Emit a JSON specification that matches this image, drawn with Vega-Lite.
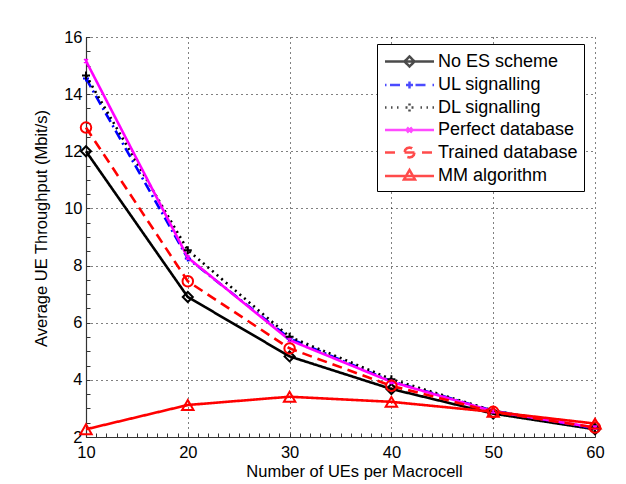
{
  "$schema": "https://vega.github.io/schema/vega-lite/v6.json",
  "width": 509,
  "height": 400,
  "autosize": "none",
  "padding": {"left": 86, "top": 37, "right": 31, "bottom": 47},
  "background": "white",
  "config": {"view": {"stroke": null}, "font": "Liberation Sans"},
  "data": {"values": [
    {"series": "No ES scheme", "ues": 10, "tput": 12.0},
    {"series": "No ES scheme", "ues": 20, "tput": 6.9},
    {"series": "No ES scheme", "ues": 30, "tput": 4.82},
    {"series": "No ES scheme", "ues": 40, "tput": 3.68},
    {"series": "No ES scheme", "ues": 50, "tput": 2.82},
    {"series": "No ES scheme", "ues": 60, "tput": 2.27},
    {"series": "UL signalling", "ues": 10, "tput": 14.55},
    {"series": "UL signalling", "ues": 20, "tput": 8.25},
    {"series": "UL signalling", "ues": 30, "tput": 5.45},
    {"series": "UL signalling", "ues": 40, "tput": 3.95},
    {"series": "UL signalling", "ues": 50, "tput": 2.92},
    {"series": "UL signalling", "ues": 60, "tput": 2.3},
    {"series": "DL signalling", "ues": 10, "tput": 14.65},
    {"series": "DL signalling", "ues": 20, "tput": 8.54},
    {"series": "DL signalling", "ues": 30, "tput": 5.51},
    {"series": "DL signalling", "ues": 40, "tput": 4.02},
    {"series": "DL signalling", "ues": 50, "tput": 2.92},
    {"series": "DL signalling", "ues": 60, "tput": 2.3},
    {"series": "Perfect database", "ues": 10, "tput": 15.16},
    {"series": "Perfect database", "ues": 20, "tput": 8.28},
    {"series": "Perfect database", "ues": 30, "tput": 5.39},
    {"series": "Perfect database", "ues": 40, "tput": 3.93},
    {"series": "Perfect database", "ues": 50, "tput": 2.9},
    {"series": "Perfect database", "ues": 60, "tput": 2.33},
    {"series": "Trained database", "ues": 10, "tput": 12.83},
    {"series": "Trained database", "ues": 20, "tput": 7.45},
    {"series": "Trained database", "ues": 30, "tput": 5.1},
    {"series": "Trained database", "ues": 40, "tput": 3.79},
    {"series": "Trained database", "ues": 50, "tput": 2.88},
    {"series": "Trained database", "ues": 60, "tput": 2.33},
    {"series": "MM algorithm", "ues": 10, "tput": 2.27},
    {"series": "MM algorithm", "ues": 20, "tput": 3.12},
    {"series": "MM algorithm", "ues": 30, "tput": 3.41},
    {"series": "MM algorithm", "ues": 40, "tput": 3.23},
    {"series": "MM algorithm", "ues": 50, "tput": 2.88},
    {"series": "MM algorithm", "ues": 60, "tput": 2.47}
  ]},
  "encoding": {
    "x": {
      "field": "ues", "type": "quantitative",
      "scale": {"domain": [10, 60], "nice": false, "zero": false},
      "axis": {
        "title": "Number of UEs per Macrocell",
        "values": [10,11,12,13,14,15,16,17,18,19,20,21,22,23,24,25,26,27,28,29,30,31,32,33,34,35,36,37,38,39,40,41,42,43,44,45,46,47,48,49,50,51,52,53,54,55,56,57,58,59,60],
        "labelExpr": "datum.value % 10 === 0 ? format(datum.value, 'd') : ''",
        "labelOverlap": false, "labelFlush": false,
        "grid": true,
        "gridOpacity": {"condition": {"test": "datum.value % 10 === 0", "value": 1}, "value": 0},
        "gridDash": [1, 4], "gridColor": "#000", "gridWidth": 1,
        "tickSize": -4, "tickColor": "#333", "tickWidth": 1,
        "domainColor": "#333", "domainWidth": 1.2,
        "labelPadding": 11, "labelFontSize": 16.5, "labelColor": "#000", "labelFont": "Liberation Sans",
        "titleFontSize": 16.5, "titleFontWeight": "normal", "titleColor": "#000", "titleFont": "Liberation Sans",
        "titleX": 268, "titleY": 39, "titleBaseline": "alphabetic", "titleAlign": "center"
      }
    },
    "y": {
      "field": "tput", "type": "quantitative",
      "scale": {"domain": [2, 16], "nice": false, "zero": false},
      "axis": {
        "title": "Average UE Throughput (Mbit/s)",
        "values": [2,2.5,3,3.5,4,4.5,5,5.5,6,6.5,7,7.5,8,8.5,9,9.5,10,10.5,11,11.5,12,12.5,13,13.5,14,14.5,15,15.5,16],
        "labelExpr": "datum.value % 2 === 0 ? format(datum.value, 'd') : ''",
        "labelOverlap": false, "labelFlush": false,
        "grid": true,
        "gridOpacity": {"condition": {"test": "datum.value % 2 === 0", "value": 1}, "value": 0},
        "gridDash": [1, 4], "gridColor": "#000", "gridWidth": 1,
        "tickSize": -4, "tickColor": "#333", "tickWidth": 1,
        "domainColor": "#333", "domainWidth": 1.2,
        "labelPadding": 8, "labelFontSize": 16.5, "labelColor": "#000", "labelFont": "Liberation Sans",
        "titleFontSize": 16.5, "titleFontWeight": "normal", "titleColor": "#000", "titleFont": "Liberation Sans",
        "titleAngle": -90, "titleX": -40, "titleY": 191, "titleBaseline": "alphabetic", "titleAlign": "center"
      }
    }
  },
  "layer": [
    {
      "transform": [{"filter": "datum.ues > 1000"}],
      "mark": {"type": "point", "filled": false, "strokeWidth": 2.5},
      "encoding": {
        "color": {
          "field": "series", "type": "nominal",
          "scale": {
            "domain": ["No ES scheme", "UL signalling", "DL signalling", "Perfect database", "Trained database", "MM algorithm"],
            "range": ["#000000", "#0000ff", "#000000", "#ff00ff", "#ff0000", "#ff0000"]
          },
          "legend": {
            "title": null,
            "orient": "none", "legendX": 291, "legendY": 7,
            "direction": "vertical",
            "fillColor": "white", "strokeColor": "#000", "padding": 6, "cornerRadius": 0,
            "labelFont": "Liberation Sans", "labelFontSize": 18, "labelColor": "#000", "labelLimit": 300,
            "symbolSize": 400, "symbolStrokeWidth": 2.5, "symbolOffset": 15, "labelOffset": 17, "rowPadding": 1.5
          }
        },
        "shape": {
          "field": "series", "type": "nominal",
          "scale": {
            "domain": ["No ES scheme", "UL signalling", "DL signalling", "Perfect database", "Trained database", "MM algorithm"],
            "range": [
              "M-2.45,0H2.45M0,-0.5L0.5,0L0,0.5L-0.5,0Z",
              "M-2.45,0H-2.3M-1.95,0H-0.6M0.6,0H1.95M2.3,0H2.45M-0.35,0H0.35M0,-0.35V0.35",
              "M-2.45,0H-2.3M-1.85,0H-1.7M-1.25,0H-1.1M1.1,0H1.25M1.7,0H1.85M2.3,0H2.45M-0.4,0H0.4M0,-0.4V0.4",
              "M-2.45,0H2.45M-0.25,-0.25L0.25,0.25M-0.25,0.25L0.25,-0.25",
              "M-2.45,0H-1.25M-0.5,0H0.5M1.25,0H2.45M0.5,0L0.433,0.25L0.25,0.433L0,0.5L-0.25,0.433L-0.433,0.25L-0.5,0L-0.433,-0.25L-0.25,-0.433L0,-0.5L0.25,-0.433L0.433,-0.25Z",
              "M-2.45,0H2.45M0,-0.6L0.55,0.35L-0.55,0.35Z"
            ]
          },
          "legend": {
            "title": null,
            "orient": "none", "legendX": 291, "legendY": 7,
            "direction": "vertical",
            "fillColor": "white", "strokeColor": "#000", "padding": 6, "cornerRadius": 0,
            "labelFont": "Liberation Sans", "labelFontSize": 18, "labelColor": "#000", "labelLimit": 300,
            "symbolSize": 400, "symbolStrokeWidth": 2.5, "symbolOffset": 15, "labelOffset": 17, "rowPadding": 1.5
          }
        }
      }
    },
    {
      "mark": {"type": "line", "strokeWidth": 2.6},
      "encoding": {
        "color": {
          "field": "series", "type": "nominal",
          "scale": {
            "domain": ["No ES scheme", "UL signalling", "DL signalling", "Perfect database", "Trained database", "MM algorithm"],
            "range": ["#000000", "#0000ff", "#000000", "#ff00ff", "#ff0000", "#ff0000"]
          },
          "legend": null
        },
        "strokeDash": {
          "field": "series", "type": "nominal",
          "scale": {
            "domain": ["No ES scheme", "UL signalling", "DL signalling", "Perfect database", "Trained database", "MM algorithm"],
            "range": [[1, 0], [10, 4, 2, 4], [2, 4], [1, 0], [10, 6], [1, 0]]
          },
          "legend": null
        }
      }
    },
    {
      "transform": [{"filter": {"field": "series", "equal": "No ES scheme"}}],
      "mark": {"type": "point", "shape": "diamond", "filled": false, "strokeWidth": 2, "size": 100, "color": "#000000", "opacity": 1}
    },
    {
      "transform": [{"filter": {"field": "series", "equal": "UL signalling"}}],
      "mark": {"type": "point", "shape": "M-0.6,0H0.6M0,-0.6V0.6", "filled": false, "strokeWidth": 2, "size": 100, "color": "#0000ff", "opacity": 1}
    },
    {
      "transform": [{"filter": {"field": "series", "equal": "DL signalling"}}],
      "mark": {"type": "point", "shape": "M-0.8,0H0.8M0,-0.8V0.8", "filled": false, "strokeWidth": 2, "size": 100, "color": "#000000", "opacity": 1}
    },
    {
      "transform": [{"filter": {"field": "series", "equal": "Perfect database"}}],
      "mark": {"type": "point", "shape": "M-0.5,-0.5L0.5,0.5M-0.5,0.5L0.5,-0.5M0,-0.6V0.6", "filled": false, "strokeWidth": 1.5, "size": 60, "color": "#ff00ff", "opacity": 1}
    },
    {
      "transform": [{"filter": {"field": "series", "equal": "Trained database"}}],
      "mark": {"type": "point", "shape": "circle", "filled": false, "strokeWidth": 2, "size": 110, "color": "#ff0000", "opacity": 1}
    },
    {
      "transform": [{"filter": {"field": "series", "equal": "MM algorithm"}}],
      "mark": {"type": "point", "shape": "triangle-up", "filled": false, "strokeWidth": 2, "size": 130, "color": "#ff0000", "opacity": 1}
    }
  ]
}
